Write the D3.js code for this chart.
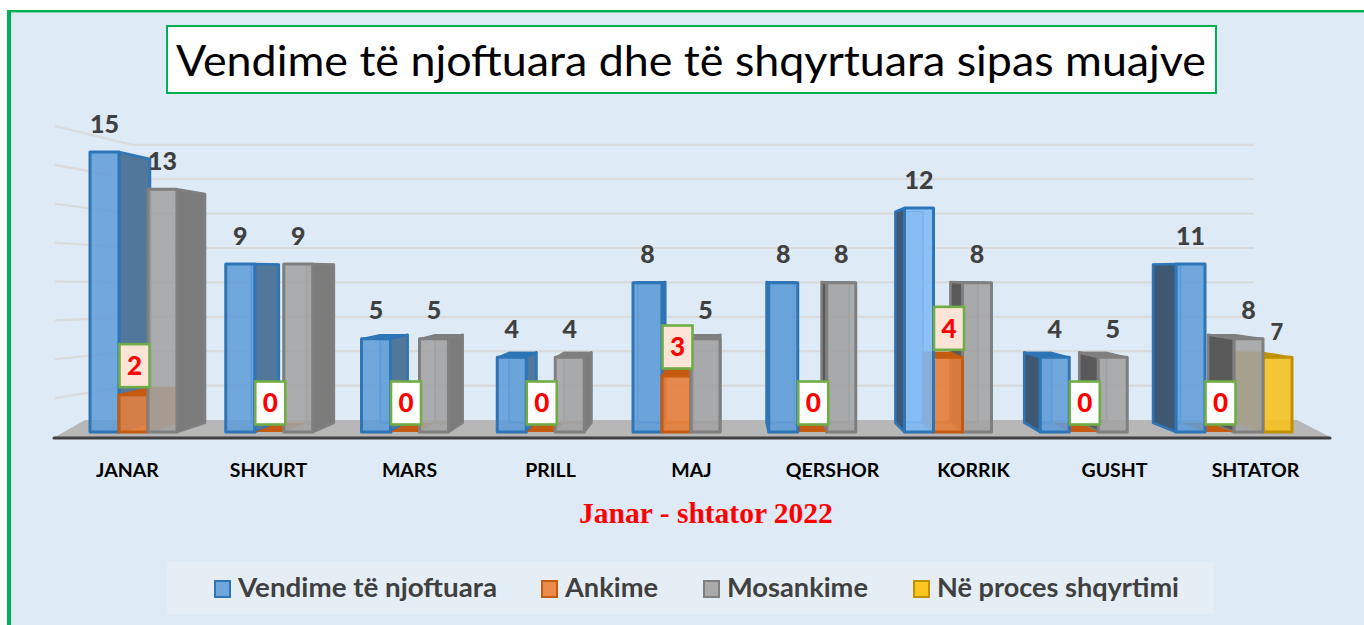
<!DOCTYPE html>
<html><head><meta charset="utf-8">
<script src="https://cdn.jsdelivr.net/npm/d3@7/dist/d3.min.js"></script>
<style>html,body{margin:0;padding:0;background:#fff;overflow:hidden}svg{display:block}</style>
</head><body><svg id="c" width="1364" height="625"></svg>
<script>
const titleText = "Vendime të njoftuara dhe të shqyrtuara sipas muajve";
const subtitleText = "Janar - shtator 2022";
const categories = ["JANAR","SHKURT","MARS","PRILL","MAJ","QERSHOR","KORRIK","GUSHT","SHTATOR"];
const seriesNames = ["Vendime të njoftuara","Ankime","Mosankime","Në proces shqyrtimi"];
// Bar heights as drawn in the picture
const njoftuaraHeights = [15,9,5,4,8,8,12,4,9];
const ankimeHeights    = [2,0,0,0,3,0,4,0,0];
const mosankimeHeights = [13,9,5,4,5,8,8,4,5];
const procesHeights    = [null,null,null,null,null,null,null,null,4];
// Data labels as printed in the picture
const njoftuaraLabels = [15,9,5,4,8,8,12,4,11];
const ankimeLabels    = [2,0,0,0,3,0,4,0,0];
const mosankimeLabels = [13,9,5,4,5,8,8,5,8];
const procesLabels    = [null,null,null,null,null,null,null,null,7];
const gridTicks = [2,4,6,8,10,12,14,16];

const heights = [njoftuaraHeights,ankimeHeights,mosankimeHeights,procesHeights];
const labels  = [njoftuaraLabels,ankimeLabels,mosankimeLabels,procesLabels];
const palette = [
 {front:"#619dd8",edge:"#2e75b6",side:"#51779b",sideL:"#3e5873",swatch:"#6fa6dc"},
 {front:"#e67f3c",edge:"#c55a11",side:"#c55a11",sideL:"#c55a11",swatch:"#ed8b4d"},
 {front:"#a3a3a3",edge:"#7f7f7f",side:"#7b7b7b",sideL:"#595959",swatch:"#a9a9a9"},
 {front:"#f8c11c",edge:"#bf9000",side:"#bf9000",sideL:"#bf9000",swatch:"#fcc51f"}
];
const FONT = "Lato, Carlito, Calibri, sans-serif";
const svg = d3.select("#c");

// frame
svg.append("rect").attr("x",7).attr("y",10).attr("width",1357).attr("height",615).attr("fill","#00b050");
svg.append("rect").attr("x",11).attr("y",12.4).attr("width",1353).attr("height",613).attr("fill","#deeaf6");

// title
svg.append("rect").attr("x",167).attr("y",26).attr("width",1049).attr("height",67)
  .attr("fill","#fff").attr("stroke","#00b050").attr("stroke-width",2);
svg.append("text").attr("x",176).attr("y",76).attr("font-family",FONT).attr("font-size",43)
  .attr("fill","#000").attr("textLength",1030).attr("lengthAdjust","spacingAndGlyphs").text(titleText);

// scales
const xGroup = d3.scaleBand().domain(categories).range([90,1292]).paddingInner(0.1455).paddingOuter(0);
const xSeries = d3.scaleBand().domain(seriesNames).range([0,xGroup.bandwidth()]);
const yFront = d3.scaleLinear().domain([0,16]).range([432,133.3]);
const yWall  = d3.scaleLinear().domain([0,16]).range([420,144.8]);
const yLeft  = d3.scaleLinear().domain([0,16]).range([437,126]);
const xLabel = d3.scalePoint().domain(categories).range([127.5,1255.5]);
// perspective of the box depth
const VX=726, VY=272, KX=0.051, KY=0.058;
const bx = x => x + KX*(VX-x);
const by = y => y + KY*(VY-y);
const line = d3.line();

// walls
const wallRight = 1254, wallLeft = 132, wallOuter = 55;
const gGrid = svg.append("g").attr("stroke","#d8dadb").attr("stroke-width",2.2).attr("fill","none");
gridTicks.forEach(t=>{
  gGrid.append("path").attr("d",line([[wallOuter,yLeft(t)],[wallLeft,yWall(t)],[wallRight,yWall(t)]]));
});
// floor
svg.append("path").attr("d",line([[55,437],[85,yWall(0)],[1297,yWall(0)],[1330,437]])+"Z").attr("fill","#b7b7b7");
svg.append("line").attr("x1",54).attr("x2",1330).attr("y1",438).attr("y2",438)
  .attr("stroke","#404040").attr("stroke-width",3).attr("stroke-linecap","round");

function poly(g,pts,fill,op,stroke,sw){
  return g.append("path").attr("d",line(pts)+"Z").attr("fill",fill).attr("fill-opacity",op)
    .attr("stroke",stroke||"none").attr("stroke-width",sw||0).attr("stroke-linejoin","round");
}
const gBars = svg.append("g");
function bar(cat,si,v){
  const g = gBars.append("g");
  const c = palette[si];
  const x0 = xGroup(cat)+xSeries(seriesNames[si]), x1 = x0+xSeries.bandwidth();
  const yb = yFront(0), yt = yFront(v);
  const front = (cat==="KORRIK"&&si===0) ? "#7fbbf5" : c.front;
  if(v===0){
    poly(g,[[x0,yb],[x1,yb],[bx(x1),by(yb)],[bx(x0),by(yb)]],c.edge,1);
    return;
  }
  // floor of the bar
  poly(g,[[x0,yb],[x1,yb],[bx(x1),by(yb)],[bx(x0),by(yb)]],c.front,0.35);
  // back face
  poly(g,[[bx(x0),by(yt)],[bx(x1),by(yt)],[bx(x1),by(yb)],[bx(x0),by(yb)]],c.front,0.35,c.edge,1.2);
  // outer side face
  const rightVisible = bx(x1)>x1, leftVisible = bx(x0)<x0;
  const faceX = rightVisible ? x1 : x0;
  const sideF = rightVisible ? c.side : c.sideL;
  if(rightVisible||leftVisible){
    const far = bx(faceX);
    poly(g,[[faceX,yt],[far,by(yt)],[far,by(yb)],[faceX,yb]],sideF,1,c.edge,2.6);
  }
  // top face when seen from above
  if(by(yt)<yt){
    poly(g,[[x0,yt],[x1,yt],[bx(x1),by(yt)],[bx(x0),by(yt)]],c.edge,1,c.edge,1.5);
  }
  // front face
  poly(g,[[x0,yt],[x1,yt],[x1,yb],[x0,yb]],front,0.88,c.edge,3);
}
categories.forEach((cat,i)=>{
  const order = [0,1,2,3].filter(s=>heights[s][i]!==null);
  const centre = xGroup(cat)+xGroup.bandwidth()/2;
  if(centre>VX) order.reverse();
  order.forEach(s=>bar(cat,s,heights[s][i]));
});

// data labels
const LABEL_COL="#404040";
categories.forEach((cat,i)=>{
  [0,2,3].forEach(s=>{
    if(labels[s][i]===null) return;
    const cx = xGroup(cat)+xSeries(seriesNames[s])+xSeries.bandwidth()/2 + (s===3?-0.5:0);
    svg.append("text").attr("x",cx).attr("y",yFront(heights[s][i])-(s===3?25:28))
      .attr("dy","0.35em").attr("text-anchor","middle").attr("font-family",FONT)
      .attr("font-weight",900).attr("font-size",s===3?22:25).attr("fill",LABEL_COL).text(labels[s][i]);
  });
  const x0 = xGroup(cat)+xSeries(seriesNames[1]);
  const yTop = yFront(heights[1][i]);
  const w=30,h=43;
  svg.append("rect").attr("x",x0+0.5).attr("y",yTop-7.5-h).attr("width",w).attr("height",h)
    .attr("fill",heights[1][i]>0?"#fce4d6":"#fff").attr("stroke","#70ad47").attr("stroke-width",2.6);
  svg.append("text").attr("x",x0+0.5+w/2).attr("y",yTop-7.5-h/2).attr("dy","0.36em").attr("text-anchor","middle")
    .attr("font-family",FONT).attr("font-weight",900).attr("font-size",26).attr("fill","#ff0000").text(labels[1][i]);
});

// category labels
categories.forEach(cat=>{
  svg.append("text").attr("x",xLabel(cat)).attr("y",477).attr("text-anchor","middle")
    .attr("font-family",FONT).attr("font-weight",700).attr("font-size",19.5).attr("fill","#000").text(cat);
});

// subtitle
svg.append("text").attr("x",706).attr("y",523).attr("text-anchor","middle")
  .attr("font-family","'Liberation Serif','Times New Roman',serif").attr("font-weight",700)
  .attr("font-size",29.5).attr("fill","#ff0000").text(subtitleText);

// legend
svg.append("rect").attr("x",167).attr("y",562).attr("width",1047).attr("height",52).attr("fill","#e6eef5");
const legendSwatchX = d3.scaleOrdinal().domain(seriesNames).range([214,541,703,913]);
const legendWidths = d3.scaleOrdinal().domain(seriesNames).range([259,93,141,242]);
seriesNames.forEach((n,i)=>{
  const x = legendSwatchX(n);
  svg.append("rect").attr("x",x+1).attr("y",581).attr("width",15).attr("height",16)
    .attr("fill",palette[i].swatch).attr("stroke",palette[i].edge).attr("stroke-width",2);
  svg.append("text").attr("x",x+24).attr("y",597).attr("font-family",FONT).attr("font-weight",700)
    .attr("font-size",26).attr("fill",LABEL_COL).attr("textLength",legendWidths(n))
    .attr("lengthAdjust","spacingAndGlyphs").text(n);
});
</script></body></html>
